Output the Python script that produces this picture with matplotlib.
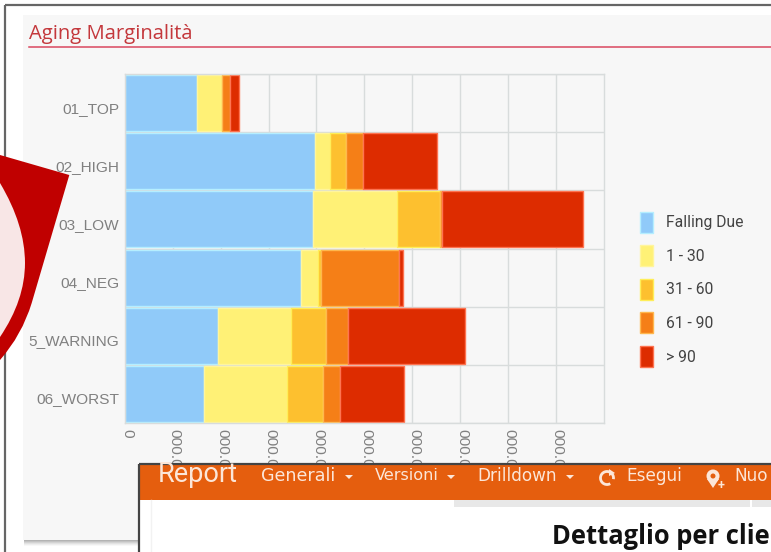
import matplotlib
matplotlib.use("Agg")
import matplotlib.pyplot as plt
import numpy as np
from matplotlib.patches import Rectangle, PathPatch, Polygon, Circle, Arc
from matplotlib.path import Path
from matplotlib.transforms import ScaledTranslation

# ---- data (thousands) ----
categories = ["01_TOP", "02_HIGH", "03_LOW", "04_NEG", "5_WARNING", "06_WORST"]
falling_due = [149.8, 397.7, 393.5, 368.4, 195.0, 165.1]
d1_30 = [52.9, 30.1, 174.9, 35.5, 151.9, 173.5]
d31_60 = [1.0, 34.1, 89.9, 6.3, 72.5, 74.6]
d61_90 = [15.7, 34.9, 4.2, 162.4, 46.6, 36.2]
d90_plus = [18.2, 155.9, 295.3, 7.7, 243.9, 133.8]
series_names = ["Falling Due", "1 - 30", "31 - 60", "61 - 90", "> 90"]
tick_values = [0, 100, 200, 300, 400, 500, 600, 700, 800, 900]
tick_labels = ["0"] + ["000.000"] * 9

colors = ["#90CAF9", "#FFF176", "#FDC02F", "#F57F17", "#DD2C00"]
edges = ["#B5EEFF", "#FFF59D", "#FFEE58", "#FFB74D", "#FF7350"]

W, H = 771, 552
fig = plt.figure(figsize=(W / 100, H / 100), dpi=100, facecolor="white")


def px_axes(z):
    a = fig.add_axes([0, 0, 1, 1], zorder=z)
    a.set_xlim(0, W)
    a.set_ylim(H, 0)
    a.axis("off")
    return a


# ---- page background ----
bg = px_axes(0)
for i, al in zip(range(6, 0, -1), [0.04, 0.06, 0.08, 0.1, 0.12, 0.14]):
    bg.add_patch(Rectangle((24, 20), W, 520 + i, fc="#555555", ec="none", alpha=al))
bg.add_patch(Rectangle((23, 15), W, 525, fc="#F7F7F7", ec="none"))
bg.plot([5, W], [5, 5], color="#666666", lw=1.6, solid_capstyle="butt")
bg.plot([5, 5], [5, H], color="#666666", lw=1.6, solid_capstyle="butt")
bg.text(29, 34, "Aging Marginalità", color="#C4383C", fontsize=14.6,
        family="Open Sans", va="center", ha="left")
bg.plot([29, W], [46.5, 46.5], color="#D9475F", lw=1.1)

# red callout behind the labels
outer = Path(
    [(0, 155), (69.3, 175), (31.7, 303), (22, 335), (0, 360), (0, 155)],
    [Path.MOVETO, Path.LINETO, Path.LINETO, Path.CURVE3, Path.CURVE3, Path.CLOSEPOLY],
)
bg.add_patch(PathPatch(outer, fc="#C00000", ec="none", zorder=5))
inner = Path(
    [(0, 183), (25, 225), (25, 263), (25, 300), (0, 337), (0, 183)],
    [Path.MOVETO, Path.CURVE3, Path.CURVE3, Path.CURVE3, Path.CURVE3, Path.CLOSEPOLY],
)
bg.add_patch(PathPatch(inner, fc="#F8E6E6", ec="none", zorder=6))

# ---- chart ----
L, R, T, B = 125, 603.5, 74, 423
ax = fig.add_axes([L / W, 1 - B / H, (R - L) / W, (B - T) / H], zorder=1)
ax.patch.set_alpha(0)
y = np.arange(len(categories))
ax.set_ylim(len(categories) - 0.5, -0.5)
ax.set_xlim(0, 1000)
ax.set_axisbelow(True)

left = np.zeros(len(categories))
for vals, name, c, e in zip([falling_due, d1_30, d31_60, d61_90, d90_plus],
                            series_names, colors, edges):
    ax.barh(y, vals, left=left, height=0.96, color=c, edgecolor=e, linewidth=1, label=name)
    left = left + np.array(vals)

ax.set_yticks(y)
ax.set_yticklabels(categories, fontsize=11.1, color="#808080", family="Liberation Sans")
ax.set_yticks(np.arange(-0.5, len(categories)), minor=True)
ax.set_xticks(tick_values)
ax.set_xticklabels(tick_labels, rotation=270, fontsize=11.1, color="#808080",
                   family="Liberation Sans", ha="center", va="top")
ax.tick_params(axis="y", which="major", length=0, pad=4)
ax.tick_params(axis="y", which="minor", length=0)
ax.tick_params(axis="x", length=0, pad=4.5)
off_x = ScaledTranslation(2 / 100, 0, fig.dpi_scale_trans)
for t in ax.get_xticklabels():
    t.set_transform(t.get_transform() + off_x)
off_y = ScaledTranslation(0, -4 / 100, fig.dpi_scale_trans)
for t in ax.get_yticklabels():
    t.set_transform(t.get_transform() + off_y)
ax.grid(axis="x", which="major", color="#D8DCDC", lw=1)
ax.grid(axis="y", which="minor", color="#D8DCDC", lw=1)
for s in ax.spines.values():
    s.set_color("#D8DCDC")
    s.set_linewidth(1)

leg = ax.legend(
    loc="upper left", bbox_to_anchor=(634 / W, 1 - 205.5 / H), bbox_transform=fig.transFigure,
    frameon=False, handlelength=0.83, handleheight=1.68, handletextpad=0.8,
    labelspacing=0.8, borderpad=0.4, borderaxespad=0,
    prop={"family": "Roboto", "size": 11.3},
)
for t in leg.get_texts():
    t.set_color("#444444")

# ---- overlapping report window ----
ov = px_axes(3)
ov.add_patch(Rectangle((139, 464), W, 100, fc="white", ec="none"))
ov.add_patch(Rectangle((140, 465), W, 35, fc="#E55E0E", ec="none"))
ov.plot([138.5, 138.5], [H, 463.5], color="#444444", lw=1.6, solid_capstyle="butt")
ov.plot([138.5, W], [463.5, 463.5], color="#444444", lw=1.6, solid_capstyle="butt")
ov.add_patch(Rectangle((454, 500), 296, 7, fc="#E8E8E8", ec="none"))
ov.add_patch(Rectangle((752, 500), 20, 7, fc="#E8E8E8", ec="none"))
ov.plot([150.5, 150.5], [500, H], color="#F2F2F2", lw=1)

menu = "#FCE6D8"
ov.text(158, 475, "Report", color=menu, fontsize=19.5, family="Roboto", va="center")
for mx, label, sz in [(261, "Generali", 12.6), (375, "Versioni", 11.6), (477, "Drilldown", 12.2),
                      (626, "Esegui", 12.2), (734, "Nuo", 12.2)]:
    ov.text(mx, 476, label, color=menu, fontsize=sz, family="DejaVu Sans", va="center")
for cx in (349, 451, 570):
    ov.add_patch(Polygon([(cx - 4, 475), (cx + 4, 475), (cx, 479)], fc=menu, ec="none"))
ov.add_patch(Arc((607, 478), 13, 13, theta1=-300, theta2=10, color=menu, lw=2))
ov.add_patch(Polygon([(609, 469), (615, 473), (609, 476)], fc=menu, ec="none"))
ov.add_patch(Circle((713, 476), 6.5, fc=menu, ec="none"))
ov.add_patch(Polygon([(707, 479), (719, 479), (713, 488)], fc=menu, ec="none"))
ov.add_patch(Circle((713, 476), 2.5, fc="#E55E0E", ec="none"))
ov.text(721, 485.5, "+", color=menu, fontsize=9, weight="bold", family="Roboto", va="center", ha="center")
ov.text(552, 537, "Dettaglio per clie", color="#111111", fontsize=18.4, weight="bold",
        family="Open Sans", va="center", ha="left")

fig.savefig("out.png", dpi=100)
